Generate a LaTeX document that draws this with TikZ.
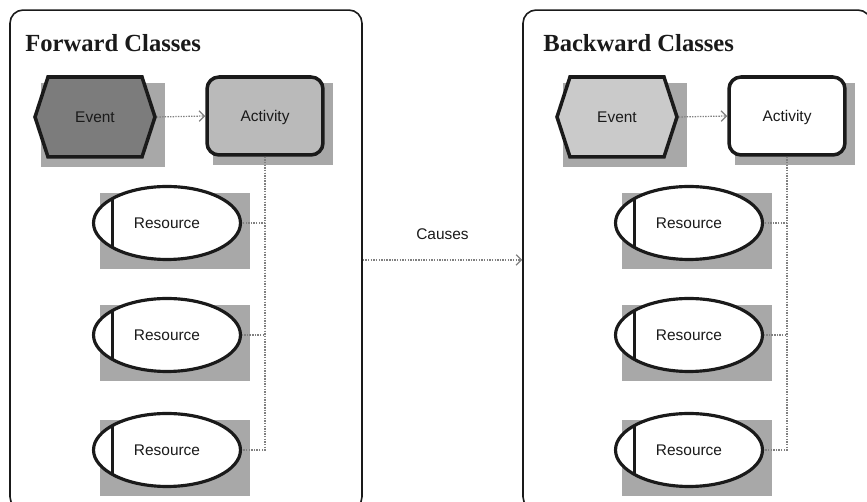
\documentclass[tikz,border=0pt]{standalone}
\usepackage{fontspec}
\setmainfont{Liberation Serif}
\setsansfont{Liberation Sans}
\usepackage{tikz}
\usetikzlibrary{positioning, arrows.meta}
\usetikzlibrary{shapes.symbols,shapes.geometric,calc,backgrounds}
\definecolor{cInk}{HTML}{1A1A1A}
\definecolor{cLink}{HTML}{808080}
\definecolor{cShade}{HTML}{A8A8A8}
\definecolor{cEvtDark}{HTML}{7C7C7C}
\definecolor{cActDark}{HTML}{BABABA}
\definecolor{cEvtLight}{HTML}{CACACA}
\newcommand{\shapefont}{\sffamily\fontsize{8.8}{10.5}\selectfont}

\begin{document}
\begin{tikzpicture}[x=0.02cm, y=-0.02cm,
  classbox/.style={draw=cInk, line width=0.9pt, rounded corners=0.26cm, minimum width=7.04cm, minimum height=10cm},
  classtitle/.style={font=\fontsize{14}{16}\selectfont\bfseries, text=cInk, inner sep=0pt, anchor=base west},
  eventbox/.style={shape=signal, signal to=west and east, signal pointer angle=144, draw=cInk, line width=2pt, minimum width=2.4cm, minimum height=1.6cm, inner sep=0pt, font=\shapefont, text=cInk},
  actbox/.style={draw=cInk, line width=2pt, rounded corners=0.24cm, minimum width=2.32cm, minimum height=1.56cm, inner sep=0pt, text depth=0pt, font=\shapefont, text=cInk},
  resbox/.style={ellipse, draw=cInk, fill=white, line width=1.8pt, minimum width=2.94cm, minimum height=1.46cm, inner sep=0pt, font=\shapefont, text=cInk,
    path picture={\draw[cInk, line width=2pt] ([xshift=0.38cm]path picture bounding box.north west) -- ([xshift=0.38cm]path picture bounding box.south west);}},
  link/.style={draw=cLink, dash pattern=on 0.8pt off 0.7pt, line width=0.7pt},
  linkarrow/.style={link, -{Straight Barb[length=3pt, width=6pt]}}
]
  \useasboundingbox (0,0) rectangle (867,502);
  \clip (0,0) rectangle (867,502);

  % the two class frames
  \node[classbox] (fwd) at (186,260) {};
  \node[classbox, minimum width=6.96cm] (bwd) at (697,260) {};
  \node[classtitle] (fwdtitle) at (25,52) {Forward Classes};
  \node[classtitle] (bwdtitle) at (543,52) {Backward Classes};

  % event and activity
  \node[eventbox, fill=cEvtDark] (fevent) at (95,117) {Event};
  \node[actbox, fill=cActDark] (fact) at (265,116) {Activity};
  \node[eventbox, fill=cEvtLight] (bevent) at (617,117) {Event};
  \node[actbox, fill=white] (bact) at (787,116) {Activity};
  \draw[linkarrow] (fevent.east) -- (fact.west);
  \draw[linkarrow] (bevent.east) -- (bact.west);

  % resources
  \foreach \i/\y in {1/223,2/335,3/450}
  {
    \node[resbox] (fres\i) at (167,\y) {Resource};
    \node[resbox] (bres\i) at (689,\y) {Resource};
    \draw[link] (fact.south) |- (fres\i.east);
    \draw[link] (bact.south) |- (bres\i.east);
  }

  \draw[linkarrow] (fwd.east) -- node[above=8pt, font=\shapefont, text=cInk] (causes) {Causes} (bwd.west);

  % shadows
  \begin{scope}[on background layer]
    \foreach \n in {fevent,fact,bevent,bact,fres1,fres2,fres3,bres1,bres2,bres3}
      {\fill[cShade] ($(\n.west |- \n.north)+(8,8)$) rectangle ($(\n.east |- \n.south)+(8,8)$);}
  \end{scope}
\end{tikzpicture}
\end{document}
